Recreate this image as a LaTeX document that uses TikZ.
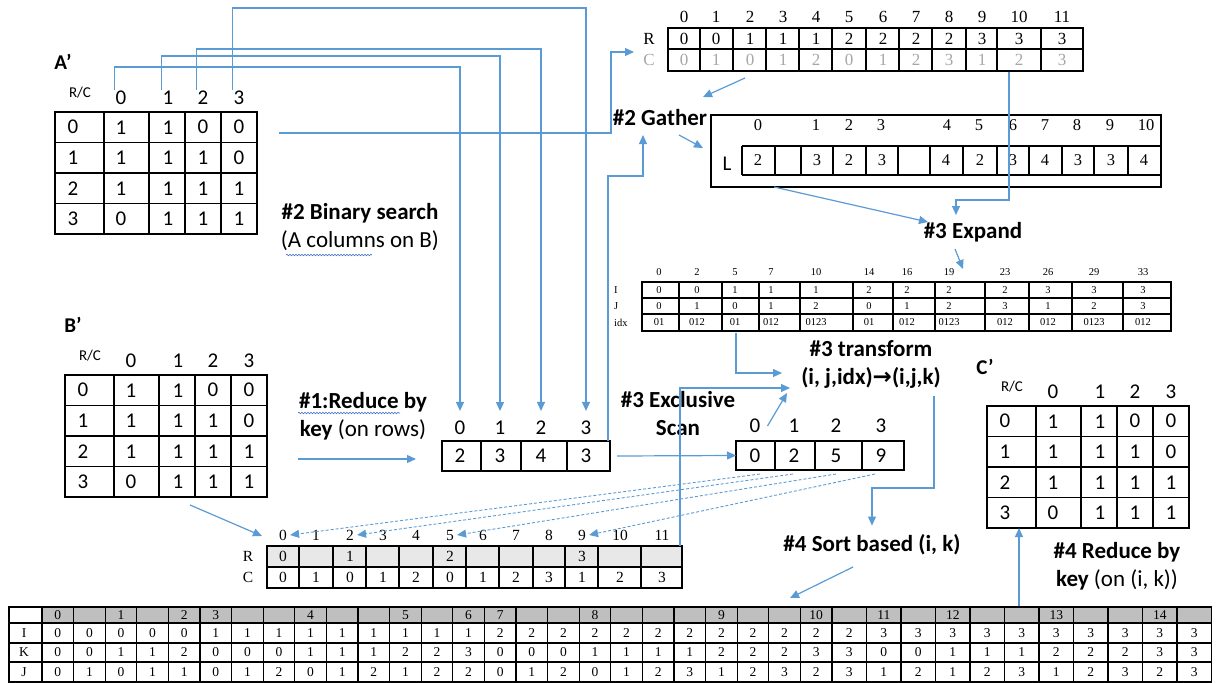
\documentclass[tikz,border=0pt]{standalone}
\usepackage{fontspec}
\setmainfont{Carlito}
\newfontfamily\tabfont{Liberation Serif}
\newfontfamily\symfont{DejaVu Sans}
\usetikzlibrary{arrows.meta,decorations.pathmorphing}

\definecolor{flowblue}{HTML}{5B9BD5}
\definecolor{hdrgray}{HTML}{BFBFBF}
\definecolor{rowgray}{HTML}{E8E8E8}
\definecolor{softgray}{HTML}{A6A6A6}
\definecolor{spellblue}{HTML}{4472C4}

\tikzset{
  flow/.style={draw=flowblue, line width=1.2pt, -{Triangle[length=9pt,width=8pt]}},
  flowdash/.style={flow, line width=0.9pt, dash pattern=on 3pt off 2pt},
  steptext/.style={font=\fontsize{23}{28}\selectfont, align=center, inner sep=0pt},
  bigtext/.style={font=\fontsize{21}{24}\selectfont, inner sep=1pt},
  rctext/.style={font=\fontsize{15}{16}\selectfont, inner sep=1pt},
  serif/.style={font=\tabfont\fontsize{#1}{#1}\selectfont, inner sep=1pt},
  gridline/.style={draw=black, line width=1.1pt},
  tblbox/.style={draw=black, line width=1.1pt, anchor=north west, inner sep=0pt, outer sep=0pt},
  spell/.style={draw=spellblue, line width=0.6pt, decorate, decoration={snake, amplitude=0.8pt, segment length=3pt}}
}

\begin{document}
\begin{tikzpicture}[x=1pt, y=-1pt]
  \useasboundingbox (0,0) rectangle (1219,683);

  % adjacency matrices A', B', C'
  \foreach \m/\mx/\my in {a/55/112, b/65/375, c/987/406} {
    \begin{scope}[shift={(\mx,\my)}]
      \node[tblbox, minimum width=202pt, minimum height=122pt] (\m mat) at (0,0) {};
      \foreach \cx in {49,94,130,166} \draw[gridline] (\cx,0) -- (\cx,122);
      \foreach \ry in {30.5,61,91.5} \draw[gridline] (0,\ry) -- (202,\ry);
      \node[rctext] (\m rc) at (25,-19) {R/C};
      \foreach \hx [count=\c from 0] in {66,113,148,184}
        \node[bigtext] (\m h\c) at (\hx,-14) {\c};
      \foreach \vals [count=\r from 0] in {{1,1,0,0},{1,1,1,0},{1,1,1,1},{0,1,1,1}} {
        \node[bigtext] (\m r\r) at (18,15.25+30.5*\r) {\r};
        \foreach \v [count=\c from 0] in \vals {
          \pgfmathsetmacro\vx{{66,113,148,184}[\c]}
          \node[bigtext] (\m v\r\c) at (\vx,15.25+30.5*\r) {\v};
        }
      }
    \end{scope}
  }
  \node[font=\fontsize{21}{24}\selectfont\bfseries] (alabel) at (63,62) {A’};
  \node[font=\fontsize{21}{24}\selectfont\bfseries] (blabel) at (73,325) {B’};
  \node[font=\fontsize{21}{24}\selectfont\bfseries] (clabel) at (985,367) {C’};

  % reduce by key result
  \node[tblbox, minimum width=168pt, minimum height=30pt] (redtab) at (442,441) {};
  \foreach \cx in {481,521,567} \draw[gridline] (\cx,441) -- (\cx,471);
  \foreach \hx/\v [count=\c from 0] in {460/2,500/3,541/4,586/3} {
    \node[bigtext] (redh\c) at (\hx,428) {\c};
    \node[bigtext] (redv\c) at (\hx,456) {\v};
  }

  % exclusive scan result
  \node[tblbox, minimum width=168pt, minimum height=29pt] (scantab) at (736,441) {};
  \foreach \cx in {775,815,862} \draw[gridline] (\cx,441) -- (\cx,470);
  \foreach \hx/\v [count=\c from 0] in {755/0,794/2,836/5,881/9} {
    \node[bigtext] (scanh\c) at (\hx,426) {\c};
    \node[bigtext] (scanv\c) at (\hx,456) {\v};
  }

  % R/C of A (top)
  \node[tblbox, minimum width=415pt, minimum height=43pt] (rctop) at (668,28) {};
  \draw[gridline] (668,49) -- (1083,49);
  \foreach \cx in {700,733,766,799,832,866,899,932,966,997,1041} \draw[gridline] (\cx,28) -- (\cx,71);
  \node[serif=17] (toplR) at (649,39) {R};
  \node[serif=17, text=softgray] (toplC) at (649,60) {C};
  \foreach \hx/\rv/\cv [count=\c from 0] in {684/0/0,716/0/1,750/1/0,783/1/1,816/1/2,849/2/0,883/2/1,916/2/2,949/2/3,982/3/1,1019/3/2,1062/3/3} {
    \node[serif=17] (toph\c) at (\hx,17) {\c};
    \node[serif=17] (topr\c) at (\hx,39) {\rv};
    \node[serif=17, text=softgray] (topc\c) at (\hx,60) {\cv};
  }

  % L (gathered lengths)
  \node[tblbox, minimum width=450pt, minimum height=72pt] (lbox) at (711,115) {};
  \draw[gridline] (742,146) -- (1161,146) (742,175) -- (1161,175);
  \foreach \cx in {742,775,801,833,866,898,930,963,997,1029,1062,1094,1128} \draw[gridline] (\cx,146) -- (\cx,175);
  \node[font=\fontsize{21}{24}\selectfont] (lname) at (727,164) {L};
  \foreach \hx [count=\c from 0] in {758,816,849,881,947,979,1013,1045,1077,1110,1146}
    \node[serif=16.5] (lh\c) at (\hx,125) {\c};
  \foreach \vx/\v [count=\c from 0] in {758/2,788/,817/3,849/2,882/3,914/,946/4,980/2,1013/3,1045/4,1078/3,1111/3,1144/4}
    \node[serif=16.5] (lv\c) at (\vx,160) {\v};

  % expanded I, J, idx
  \node[tblbox, minimum width=529pt, minimum height=49pt] (ijtab) at (642,282) {};
  \draw[gridline] (642,298) -- (1171,298) (642,314) -- (1171,314);
  \foreach \cx in {679,722,759,800,853,893,935,985,1029,1072,1123} \draw[gridline] (\cx,282) -- (\cx,331);
  \node[serif=10.5, anchor=west] (ijlI) at (613,290) {I};
  \node[serif=10.5, anchor=west] (ijlJ) at (613,306) {J};
  \node[serif=10.5, anchor=west] (ijlx) at (613,322.5) {idx};
  \foreach \hx/\h/\vi/\vj/\vk [count=\c from 0] in {659/0/0/0/01, 697/2/0/1/012, 735/5/1/0/01, 771/7/1/1/012, 816/10/1/2/0123, 869/14/2/0/01, 907/16/2/1/012, 949/19/2/2/0123, 1005/23/2/3/012, 1048/26/3/1/012, 1094/29/3/2/0123, 1143/33/3/3/012} {
    \node[serif=10.5] (ijh\c) at (\hx,272) {\h};
    \node[serif=10.5] (iji\c) at (\hx,290) {\vi};
    \node[serif=10.5] (ijj\c) at (\hx,306) {\vj};
    \node[serif=10.5] (ijx\c) at (\hx,322.5) {\vk};
  }

  % R/C of B (middle)
  \fill[rowgray] (267,546) rectangle (682,567);
  \node[tblbox, minimum width=415pt, minimum height=42pt] (rcbot) at (267,546) {};
  \draw[gridline] (267,567) -- (682,567);
  \foreach \cx in {299,333,366,399,433,466,499,533,565,598,641} \draw[gridline] (\cx,546) -- (\cx,588);
  \node[serif=15.5] (srlR) at (248,556) {R};
  \node[serif=15.5] (srlC) at (248,577) {C};
  \foreach \hx/\rv/\cv [count=\c from 0] in {283/0/0,316//1,350/1/0,383//1,416//2,450/2/0,483//1,516//2,549//3,582/3/1,620//2,662//3} {
    \node[serif=15.5] (srh\c) at (\hx,535) {\c};
    \node[serif=15.5] (srr\c) at (\hx,556) {\rv};
    \node[serif=15.5] (src\c) at (\hx,577) {\cv};
  }

  % sorted I, K, J
  \fill[hdrgray] (42,607) rectangle (1211.5,623);
  \node[tblbox, minimum width=1202.5pt, minimum height=75pt] (ikjtab) at (9,607) {};
  \foreach \ry in {623,643,662} \draw[gridline] (9,\ry) -- (1211.5,\ry);
  \foreach \i in {0,...,35} {
    \pgfmathsetmacro\cx{\i<25 ? 42+31.6*\i : 832+34.5*(\i-25)}
    \draw[gridline] (\cx,607) -- (\cx,682);
  }
  \node[serif=13.5] (ikjlI) at (24,633) {I};
  \node[serif=13.5] (ikjlK) at (24,652.5) {K};
  \node[serif=13.5] (ikjlJ) at (24,672) {J};
  \foreach \i/\h in {0/0,2/1,4/2,5/3,8/4,11/5,13/6,14/7,17/8,21/9,24/10,26/11,28/12,31/13,34/14} {
    \pgfmathsetmacro\cx{\i<25 ? 42+31.6*(\i+0.5) : 832+34.5*(\i-24.5)}
    \node[serif=13.5] (ikjh\i) at (\cx,615) {\h};
  }
  \foreach \v [count=\i from 0] in {0,0,0,0,0,1,1,1,1,1,1,1,1,1,2,2,2,2,2,2,2,2,2,2,2,2,3,3,3,3,3,3,3,3,3,3} {
    \pgfmathsetmacro\cx{\i<25 ? 42+31.6*(\i+0.5) : 832+34.5*(\i-24.5)}
    \node[serif=13.5] (ikji\i) at (\cx,633) {\v};
  }
  \foreach \v [count=\i from 0] in {0,0,1,1,2,0,0,0,1,1,1,2,2,3,0,0,0,1,1,1,1,2,2,2,3,3,0,0,1,1,1,2,2,2,3,3} {
    \pgfmathsetmacro\cx{\i<25 ? 42+31.6*(\i+0.5) : 832+34.5*(\i-24.5)}
    \node[serif=13.5] (ikjk\i) at (\cx,652.5) {\v};
  }
  \foreach \v [count=\i from 0] in {0,1,0,1,1,0,1,2,0,1,2,1,2,2,0,1,2,0,1,2,3,1,2,3,2,3,1,2,1,2,3,1,2,3,2,3} {
    \pgfmathsetmacro\cx{\i<25 ? 42+31.6*(\i+0.5) : 832+34.5*(\i-24.5)}
    \node[serif=13.5] (ikjj\i) at (\cx,672) {\v};
  }

  % step labels
  \node[steptext] (gather) at (660,118) {\textbf{\#2 Gather}};
  \node[steptext] (bsearch) at (360,227) {\textbf{\#2 Binary search}\\(A columns on B)};
  \node[steptext] (reduce1) at (363,416) {\textbf{\#1:Reduce by}\\\textbf{key} (on rows)};
  \node[steptext] (scanlbl) at (678,414) {\textbf{\#3 Exclusive}\\\textbf{Scan}};
  \node[steptext] (expand) at (973,232) {\textbf{\#3 Expand}};
  \node[steptext] (transform) at (871,364) {\textbf{\#3 transform}\\\textbf{(i, j,idx){\symfont\bfseries →}(i,j,k)}};
  \node[steptext] (sortlbl) at (872,545) {\textbf{\#4 Sort based (i, k)}};
  \node[steptext] (reduce2) at (1117,566) {\textbf{\#4 Reduce by}\\\textbf{key} (on (i, k))};
  \draw[spell] (298,413) -- (400,413);
  \draw[spell] (286,255) -- (372,255);

  % free ends
  \coordinate (arow) at (279,133);
  \coordinate (rcin) at (634,52);
  \coordinate (topout) at (745,78);
  \coordinate (gtop) at (703,97);
  \coordinate (gout) at (679,135);
  \coordinate (lin) at (703,148);
  \coordinate (gin) at (643,135);
  \coordinate (lout) at (774,187);
  \coordinate (c10out) at (1009,72);
  \coordinate (expin) at (956,215);
  \coordinate (expout) at (955,249);
  \coordinate (ijin) at (963,269);
  \coordinate (ijout) at (736,333);
  \coordinate (tin1) at (782,373);
  \coordinate (tin2) at (787,393);
  \coordinate (tin3) at (790,388);
  \coordinate (tout) at (934,396);
  \coordinate (sortout) at (853,567);
  \coordinate (sortin) at (790,598);
  \coordinate (cin) at (1019,606);
  \coordinate (bout) at (298,459);
  \coordinate (bdiag) at (190,505);
  \coordinate (bdtip) at (262,536);
  \coordinate (exptip) at (928,222);

  % A' columns -> reduce by key
  \draw[flow, shorten >=9pt] (ah0.north west) -- ++(0,-23) -| (redh0.north);
  \draw[flow, shorten >=9pt] (ah1.north west) -- ++(0,-34) -| (redh1.north);
  \draw[flow, shorten >=9pt] (ah2.north west) -- ++(0,-41) -| (redh2.north);
  \draw[flow, shorten >=9pt] (ah3.north west) -- ++(0,-82) -| (redh3.north);

  % gather
  \draw[flow] (arow) -- (611,133) |- (rcin);
  \draw[flow] (topout) -- (gtop);
  \draw[flow] (gout) -- (lin);
  \draw[flow] ([xshift=-2pt]redtab.north east) -- (608,176) -| (gin);

  % expand
  \draw[flow] (lout) -- (exptip);
  \draw[flow] (c10out) -- (1009,200) -| (expin);
  \draw[flow] (expout) -- (ijin);

  % reduce, scan
  \draw[flow] (bout) -- ++(118,0);
  \draw[flow] ([xshift=7pt]redtab.east) -- (scantab.west);
  \draw[flow] (bdiag) -- (bdtip);
  \foreach \s/\t in {760/0,793/2,836/5,875/9} {
    \coordinate (dash\t) at (\s,474);
    \draw[flowdash] (dash\t) -- ([xshift=2pt]srh\t.east);
  }

  % transform, sort, reduce
  \draw[flow] (ijout) |- (tin1);
  \draw[flow] ([xshift=6pt]scanh0.east) -- (tin2);
  \draw[flow] ([xshift=-2pt]rcbot.north east) |- (tin3);
  \draw[flow, shorten >=9pt] (tout) -- (934,488) -| (sortlbl.north);
  \draw[flow] (sortout) -- (sortin);
  \draw[flow] (cin) -- (cin |- cmat.south);
\end{tikzpicture}
\end{document}
